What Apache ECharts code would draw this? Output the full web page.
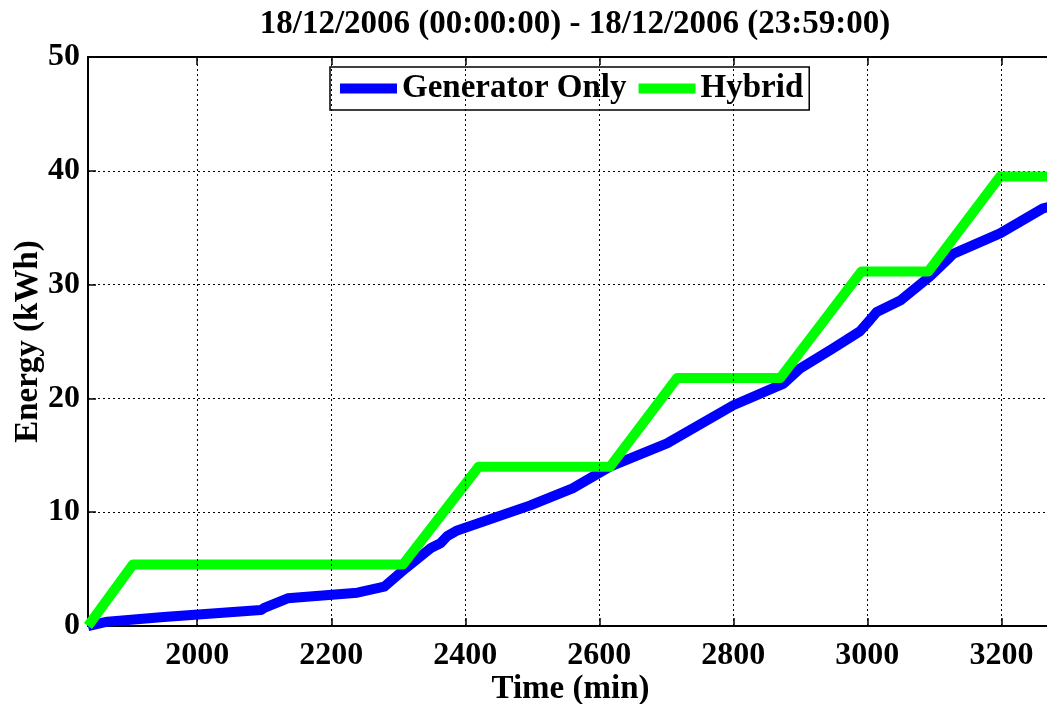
<!DOCTYPE html>
<html>
<head>
<meta charset="utf-8">
<title>Energy</title>
<script src="https://cdn.jsdelivr.net/npm/echarts@6/dist/echarts.min.js"></script>
<style>
  html, body { margin: 0; padding: 0; background: #fff; }
  #chart { width: 1047px; height: 704px; }
</style>
</head>
<body>
<div id="chart"></div>
<script>
// values
const genTime = [1837, 1866, 1950, 2095, 2100, 2135, 2239, 2279, 2311, 2348, 2363, 2373, 2388, 2497, 2560, 2616, 2701, 2800, 2875, 2899, 2949, 2989, 3004, 3014, 3049, 3093, 3123, 3128, 3198, 3262, 3277]
const genEnergy = [0, 0.38, 0.8, 1.4, 1.6, 2.43, 2.93, 3.45, 5.07, 6.83, 7.27, 7.9, 8.4, 10.6, 12.1, 14.0, 16.05, 19.4, 21.3, 22.6, 24.4, 25.9, 26.9, 27.6, 28.6, 30.7, 32.4, 32.7, 34.5, 36.7, 36.9]
const hybTime = [1837, 1904, 2307, 2420, 2616, 2716, 2870, 2991, 3091, 3198, 3277]
const hybEnergy = [0, 5.4, 5.4, 14.0, 14.0, 21.8, 21.8, 31.15, 31.15, 39.5, 39.5]
const xTicks = [2000, 2200, 2400, 2600, 2800, 3000, 3200]
const seriesNames = ['Generator Only', 'Hybrid']

const pares = (xs, ys) => xs.map((x, i) => [x, ys[i]])

const fonte = 'Liberation Serif, Times New Roman, serif'
const preto = '#000'

const dom = document.getElementById('chart')
const myChart = echarts.init(dom, null, { renderer: 'canvas' })

const eixoX = (pos, mostra) => ({
    type: 'value',
    position: pos,
    min: 1837,
    max: 3277,
    axisLine: { show: true, onZero: false, lineStyle: { color: preto, width: 2 } },
    axisTick: { show: true, inside: true, length: 8, customValues: xTicks, lineStyle: { color: preto, width: 1.5 } },
    axisLabel: {
        show: mostra,
        customValues: xTicks,
        formatter: v => String(v),
        color: preto,
        fontFamily: fonte,
        fontWeight: 'bold',
        fontSize: 32,
        margin: 14
    },
    splitLine: { show: false }
})

const option = {
    animation: false,
    backgroundColor: '#fff',
    title: {
        text: '18/12/2006 (00:00:00) - 18/12/2006 (23:59:00)',
        left: 570,
        top: 3,
        textAlign: 'center',
        textStyle: { color: preto, fontFamily: fonte, fontWeight: 'bold', fontSize: 33 }
    },
    legend: {
        data: seriesNames,
        left: 330,
        top: 67,
        icon: 'rect',
        itemWidth: 57,
        itemHeight: 10,
        itemGap: 12,
        padding: [5, 6, 5, 10],
        borderColor: preto,
        borderWidth: 1.5,
        backgroundColor: '#fff',
        textStyle: { color: preto, fontFamily: fonte, fontWeight: 'bold', fontSize: 33 }
    },
    grid: { left: 88, top: 57, right: -6, bottom: 78, outerBoundsMode: 'none', containLabel: false },
    xAxis: [
        Object.assign(eixoX('bottom', true), {
            name: 'Time (min)',
            nameLocation: 'middle',
            nameGap: 47,
            nameMoveOverlap: false,
            nameTextStyle: { color: preto, fontFamily: fonte, fontWeight: 'bold', fontSize: 33 }
        }),
        eixoX('top', false)
    ],
    yAxis: [{
        type: 'value',
        min: 0,
        max: 50,
        interval: 10,
        name: 'Energy (kWh)',
        nameLocation: 'middle',
        nameGap: 43,
        nameMoveOverlap: false,
        nameTextStyle: { color: preto, fontFamily: fonte, fontWeight: 'bold', fontSize: 33 },
        axisLine: { show: true, lineStyle: { color: preto, width: 2 } },
        axisTick: { show: true, inside: true, length: 8, lineStyle: { color: preto, width: 1.5 } },
        axisLabel: { color: preto, fontFamily: fonte, fontWeight: 'bold', fontSize: 32, margin: 8 },
        splitLine: { show: true, lineStyle: { color: preto, width: 1, type: [2, 3] } }
    }],
    series: [{
        name: seriesNames[0],
        type: 'line',
        data: pares(genTime, genEnergy),
        showSymbol: false,
        color: '#0000ff',
        lineStyle: { width: 10, color: '#0000ff', join: 'round' },
        markLine: {
            silent: true,
            symbol: 'none',
            label: { show: false },
            lineStyle: { color: preto, width: 1, type: [2, 3] },
            data: xTicks.map(v => ({ xAxis: v }))
        },
        z: 3
    }, {
        name: seriesNames[1],
        type: 'line',
        data: pares(hybTime, hybEnergy),
        showSymbol: false,
        color: '#00ff00',
        lineStyle: { width: 10, color: '#00ff00', join: 'round' },
        z: 4
    }]
}

myChart.setOption(option)
</script>
</body>
</html>
